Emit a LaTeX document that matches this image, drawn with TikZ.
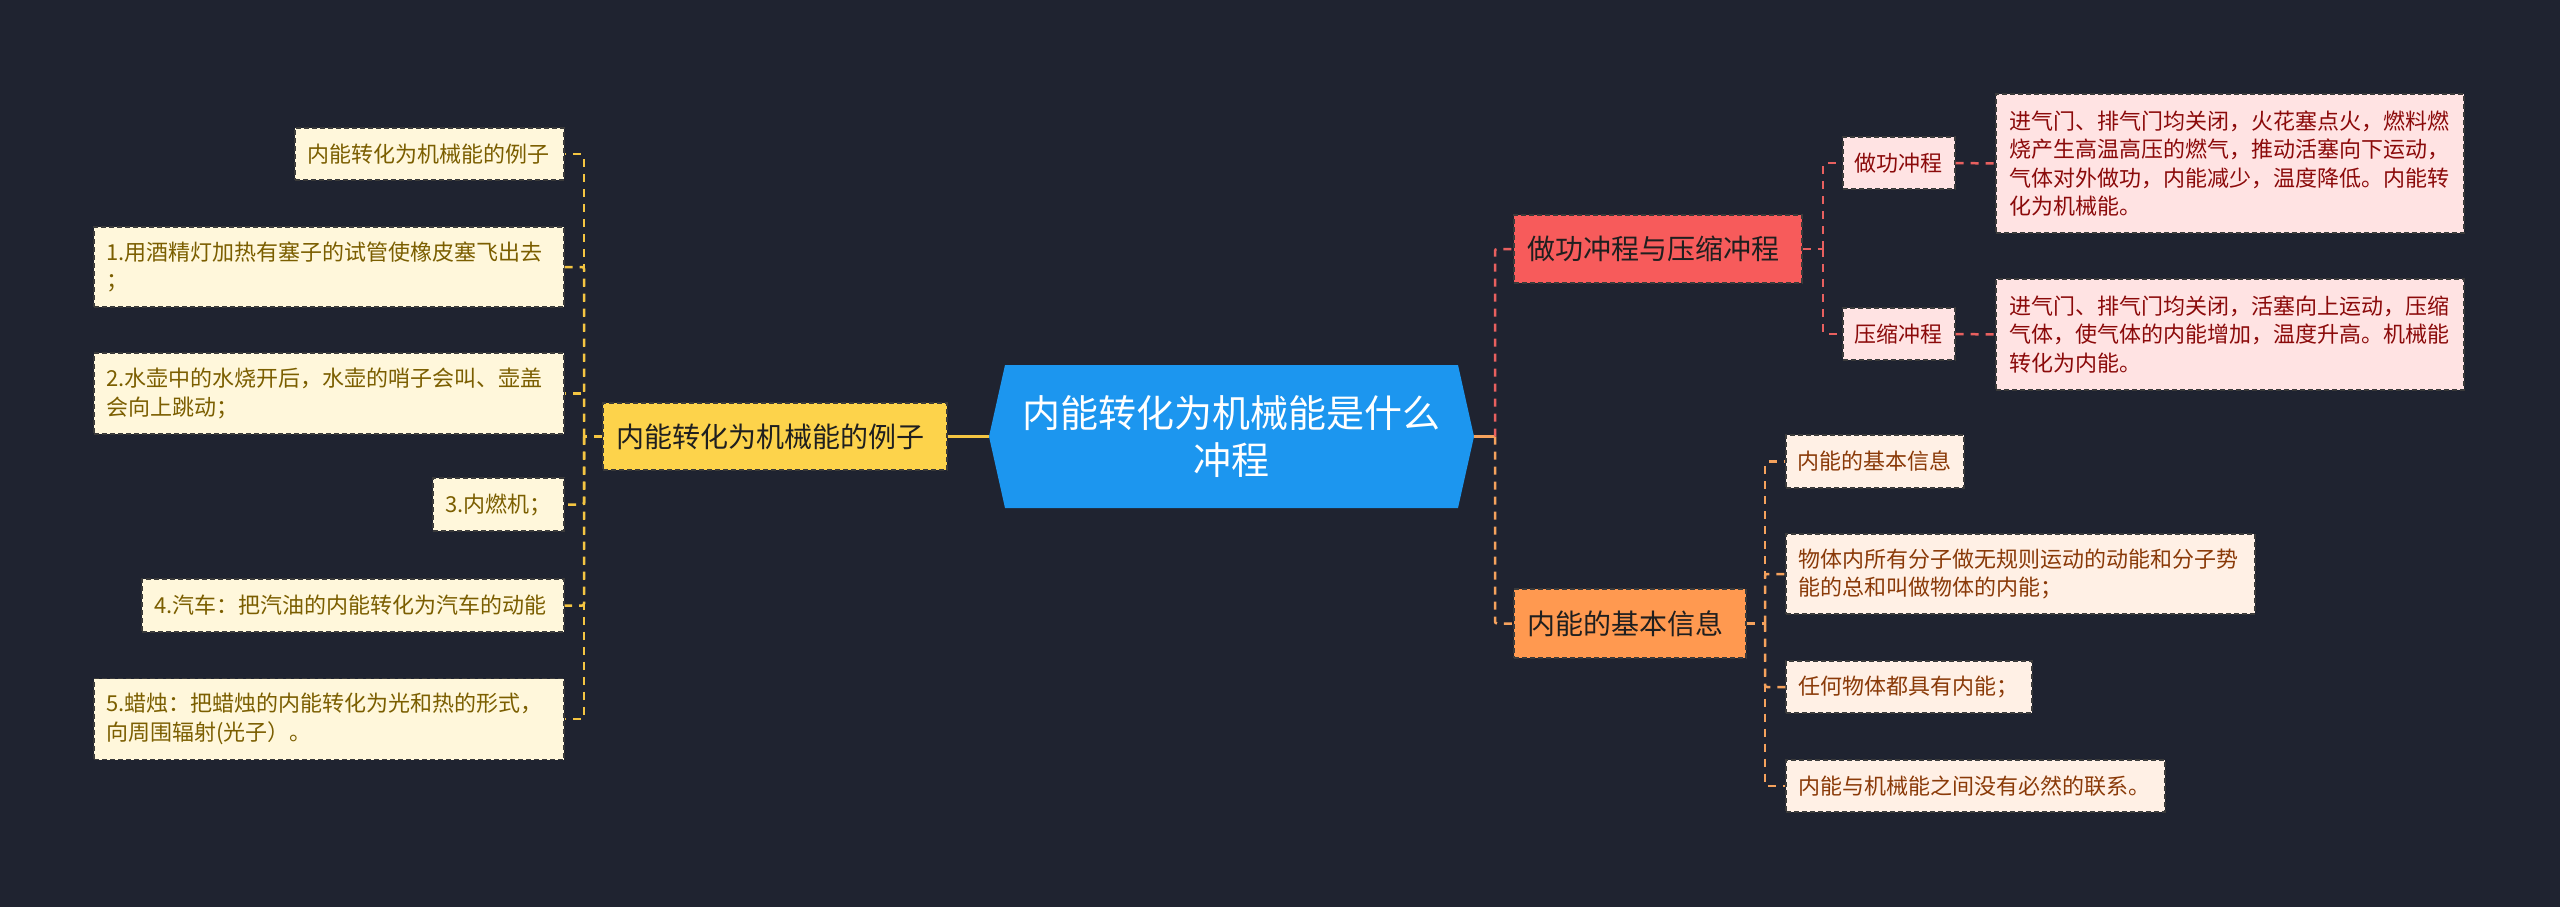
\documentclass[tikz,border=0pt]{standalone}
\usepackage{fontspec}
\setmainfont{Noto Sans CJK SC}
\definecolor{bg}{HTML}{1F2330}
\definecolor{rootblue}{HTML}{1C96EF}
\definecolor{ybox}{HTML}{FDD34B}
\definecolor{rbox}{HTML}{F75B5B}
\definecolor{obox}{HTML}{FF9950}
\definecolor{lfill}{HTML}{FFF7DB}
\definecolor{ltext}{HTML}{7B5E00}
\definecolor{rfill}{HTML}{FFE3E3}
\definecolor{rtext}{HTML}{8B0A0A}
\definecolor{ofill}{HTML}{FFF0E5}
\definecolor{otext}{HTML}{8A3A08}
\definecolor{lline}{HTML}{F4C542}
\definecolor{rline}{HTML}{E8605F}
\definecolor{oline}{HTML}{F5A25D}
\definecolor{boxedge}{HTML}{3A3A3A}
\begin{document}
\begin{tikzpicture}[x=1pt,y=-1pt,
  basebox/.style={rectangle, draw=boxedge, dash pattern=on 5pt off 3pt, line width=1.3pt, inner sep=0pt, align=left},
  leaf/.style={basebox, font=\fontsize{22pt}{28.3pt}\selectfont},
  lleaf/.style={leaf, fill=lfill, text=ltext},
  rleaf/.style={leaf, fill=rfill, text=rtext},
  oleaf/.style={leaf, fill=ofill, text=otext},
  mainbox/.style={basebox, font=\fontsize{28pt}{34pt}\selectfont, text=black!88},
  conn/.style={line width=2.5pt, dash pattern=on 8pt off 7pt},
  lconn/.style={conn, draw=lline},
  rconn/.style={conn, draw=rline},
  oconn/.style={conn, draw=oline}
]
\useasboundingbox (0,0) rectangle (2560,907);
\fill[bg] (0,0) rectangle (2560,907);

% root
\fill[rootblue] (989,436.5) -- (1005,365) -- (1458,365) -- (1474,436.5) -- (1458,508) -- (1005,508) -- cycle;
\node[font=\fontsize{38pt}{47pt}\selectfont, text=white, align=center, minimum width=485pt, minimum height=143pt, inner sep=0pt] (root) at (1231.5,436.5) {内能转化为机械能是什么\\冲程};

% left main
\node[mainbox, fill=ybox, text width=318pt, minimum width=344pt, minimum height=67pt] (Y) at (775,436.5) {内能转化为机械能的例子};

% left leaves
\node[lleaf, text width=245pt, minimum width=269pt, minimum height=52pt] (L1) at (429.5,154) {内能转化为机械能的例子};
\node[lleaf, text width=446pt, minimum width=470pt, minimum height=80pt] (L2) at (329,267) {1.用酒精灯加热有塞子的试管使橡皮塞飞出去\\；};
\node[lleaf, text width=446pt, minimum width=470pt, minimum height=81pt] (L3) at (329,393.5) {2.水壶中的水烧开后，水壶的哨子会叫、壶盖\\会向上跳动；};
\node[lleaf, text width=107pt, minimum width=131pt, minimum height=53pt] (L4) at (498.5,504.5) {3.内燃机；};
\node[lleaf, text width=398pt, minimum width=422pt, minimum height=53pt] (L5) at (353,605.5) {4.汽车：把汽油的内能转化为汽车的动能};
\node[lleaf, text width=446pt, minimum width=470pt, minimum height=81pt] (L6) at (329,719) {5.蜡烛：把蜡烛的内能转化为光和热的形式，\\向周围辐射(光子）。};

% right main
\node[mainbox, fill=rbox, text width=262pt, minimum width=288pt, minimum height=68pt] (R1) at (1658,249) {做功冲程与压缩冲程};
\node[mainbox, fill=obox, text width=206pt, minimum width=232pt, minimum height=69pt] (R2) at (1630,623.5) {内能的基本信息};

% red leaves
\node[rleaf, text width=90pt, minimum width=112pt, minimum height=52pt] (S1) at (1899,163) {做功冲程};
\node[rleaf, text width=90pt, minimum width=112pt, minimum height=52pt] (S2) at (1899,334) {压缩冲程};
\node[rleaf, text width=442pt, minimum width=468pt, minimum height=139pt] (D1) at (2230,163.5) {进气门、排气门均关闭，火花塞点火，燃料燃\\烧产生高温高压的燃气，推动活塞向下运动，\\气体对外做功，内能减少，温度降低。内能转\\化为机械能。};
\node[rleaf, text width=442pt, minimum width=468pt, minimum height=111pt] (D2) at (2230,334.5) {进气门、排气门均关闭，活塞向上运动，压缩\\气体，使气体的内能增加，温度升高。机械能\\转化为内能。};

% orange leaves
\node[oleaf, text width=156pt, minimum width=178pt, minimum height=53pt] (O1) at (1875,461.5) {内能的基本信息};
\node[oleaf, text width=445pt, minimum width=469pt, minimum height=80pt] (O2) at (2020.5,574) {物体内所有分子做无规则运动的动能和分子势\\能的总和叫做物体的内能；};
\node[oleaf, text width=222pt, minimum width=246pt, minimum height=52pt] (O3) at (1909,687) {任何物体都具有内能；};
\node[oleaf, text width=355pt, minimum width=379pt, minimum height=52pt] (O4) at (1975.5,786) {内能与机械能之间没有必然的联系。};

% junction coordinates
\coordinate (lj) at (584,436.5);
\coordinate (rj) at (1495,436.5);
\coordinate (rj2) at (1823,249);
\coordinate (oj) at (1765,623.5);

% connectors: root to main branches
\draw[line width=3pt, draw=lline] (root.west) -- (Y.east);
\draw[line width=3pt, draw=oline] (root.east) -- (rj);

% left
\draw[lconn] (Y.west) -- (lj);
\foreach \n in {L1,L2,L3,L4,L5,L6} \draw[lconn, rounded corners=2pt] (lj) |- (\n.east);

% right red
\draw[rconn, rounded corners=2pt] (rj) |- (R1.west);
\draw[rconn] (R1.east) -- (rj2);
\draw[rconn, rounded corners=2pt] (rj2) |- (S1.west);
\draw[rconn, rounded corners=2pt] (rj2) |- (S2.west);
\draw[rconn] (S1.east) -- (D1.west);
\draw[rconn] (S2.east) -- (D2.west);

% right orange
\draw[oconn, rounded corners=2pt] (rj) |- (R2.west);
\draw[oconn] (R2.east) -- (oj);
\foreach \n in {O1,O2,O3,O4} \draw[oconn, rounded corners=2pt] (oj) |- (\n.west);
\end{tikzpicture}
\end{document}
